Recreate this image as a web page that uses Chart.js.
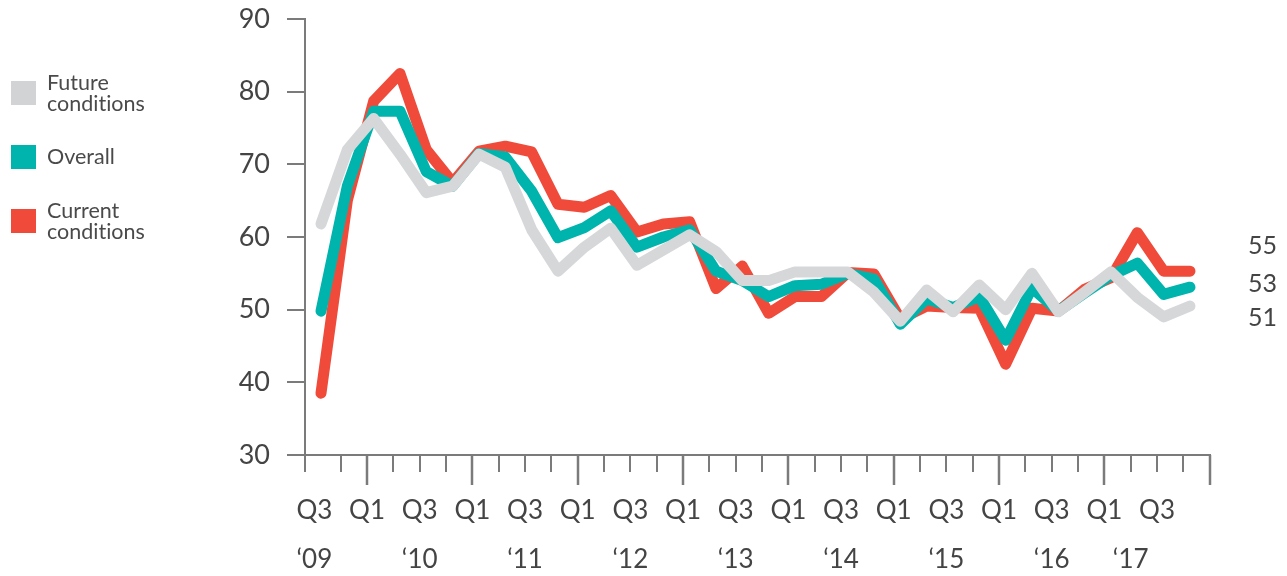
<!DOCTYPE html>
<html>
<head>
<meta charset="utf-8">
<script src="https://cdn.jsdelivr.net/npm/chart.js@4/dist/chart.umd.min.js"></script>
<style>
  html, body { margin: 0; padding: 0; background: #fff; }
  #wrap { position: relative; width: 1287px; height: 576px; overflow: hidden; }
  #chart { position: absolute; left: 0; top: 0; }
  #legend { position: absolute; left: 11px; top: 61px; font-family: 'Lato', sans-serif; color: #4a4a4a; font-variant-ligatures: none; }
  .item { display: flex; align-items: center; height: 64px; }
  .sw { width: 25px; height: 24px; margin-right: 11px; flex: none; }
  .txt { font-size: 21.5px; line-height: 21.5px; width: 120px; }
</style>
</head>
<body>
<div id="wrap">
  <canvas id="chart" width="1287" height="576"></canvas>
  <div id="legend"></div>
</div>
<script>
'use strict';

// ── 데이터 ────────────────────────────────────────────
// 분기: Q3 '09 ~ Q4 '17
const periods = [
  "Q3 '09","Q4 '09",
  "Q1 '10","Q2 '10","Q3 '10","Q4 '10",
  "Q1 '11","Q2 '11","Q3 '11","Q4 '11",
  "Q1 '12","Q2 '12","Q3 '12","Q4 '12",
  "Q1 '13","Q2 '13","Q3 '13","Q4 '13",
  "Q1 '14","Q2 '14","Q3 '14","Q4 '14",
  "Q1 '15","Q2 '15","Q3 '15","Q4 '15",
  "Q1 '16","Q2 '16","Q3 '16","Q4 '16",
  "Q1 '17","Q2 '17","Q3 '17","Q4 '17"
];

const futureConditions = [
  61.8, 72.0,
  76.3, 71.4, 66.1, 67.0,
  71.4, 69.6, 61.0, 55.3,
  58.6, 61.2, 56.1, 58.2,
  60.3, 58.0, 54.0, 54.0,
  55.2, 55.2, 55.2, 52.4,
  48.4, 52.7, 49.7, 53.4,
  50.0, 55.0, 49.7, 52.4,
  55.2, 51.7, 49.0, 50.5
];

const overall = [
  49.8, 67.0,
  77.3, 77.3, 69.0, 67.0,
  71.5, 71.0, 66.3, 59.9,
  61.3, 63.6, 58.6, 60.0,
  61.0, 55.3, 54.0, 51.8,
  53.3, 53.5, 55.0, 54.2,
  48.0, 51.5, 50.3, 51.8,
  45.8, 53.0, 49.8, 52.3,
  54.7, 56.4, 52.1, 53.1
];

const currentConditions = [
  38.5, 65.0,
  78.7, 82.5, 72.0, 67.5,
  71.8, 72.5, 71.7, 64.5,
  64.1, 65.7, 60.7, 61.8,
  62.1, 52.9, 56.0, 49.5,
  51.8, 51.8, 55.1, 54.9,
  48.7, 50.5, 50.3, 50.2,
  42.5, 50.2, 49.8, 52.8,
  54.4, 60.6, 55.3, 55.3
];

const seriesNames  = ['Future conditions', 'Overall', 'Current conditions'];
const seriesColors = ['#d6d7d9', '#00b4ae', '#f04b3a'];
const legendColors = ['#d1d3d4', '#00b4ae', '#f04b3a'];

const yTicks       = [30, 40, 50, 60, 70, 80, 90];
const quarterTicks = ['Q3','Q1','Q3','Q1','Q3','Q1','Q3','Q1','Q3','Q1','Q3','Q1','Q3','Q1','Q3','Q1','Q3'];
const yearTicks    = ['‘09','‘10','‘11','‘12','‘13','‘14','‘15','‘16','‘17'];
const endLabels    = ['55', '53', '51'];

// ── 스타일 ────────────────────────────────────────────
const FONT = "'Lato', sans-serif";
const TEXT = '#444444';
const AXIS = '#7b7b7b';

// ── x축 눈금 (분기 라벨은 점보다 1/4 분기 왼쪽) ─────────
const SHIFT = 0.25;
const xLabelMap = new Map();
quarterTicks.forEach((q, k) => {
  const i = k * 2;
  const year = (i % 4 === 0 && i / 4 < yearTicks.length - 1) ? yearTicks[i / 4] : '';
  xLabelMap.set(i - SHIFT, [q, year]);
});
// '17 은 Q1 과 Q3 사이에
xLabelMap.set(31 - SHIFT, ['', yearTicks[yearTicks.length - 1]]);
const xTickValues = [...xLabelMap.keys()].sort((a, b) => a - b);

function toPoints(arr) {
  return arr.map((v, i) => ({ x: i, y: v }));
}

// ── 축 장식 플러그인 ─────────────────────────────────
const axisExtras = {
  id: 'axisExtras',
  afterDraw(chart) {
    const { ctx, chartArea, scales } = chart;
    const x = scales.x;
    const bottom = chartArea.bottom;
    ctx.save();
    ctx.strokeStyle = AXIS;
    ctx.lineWidth = 2;
    ctx.beginPath();
    ctx.moveTo(chartArea.left - 18, bottom);
    ctx.lineTo(chartArea.right + 1, bottom);
    ctx.moveTo(chartArea.left, bottom);
    ctx.lineTo(chartArea.left, bottom + 17);
    ctx.stroke();

    // 분기 눈금: Q1 은 길게
    for (let i = 1; i <= periods.length; i++) {
      const px = Math.round(x.getPixelForValue(i - SHIFT));
      const major = i % 4 === 2;
      ctx.lineWidth = major ? 2.5 : 2;
      ctx.beginPath();
      ctx.moveTo(px, bottom);
      ctx.lineTo(px, bottom + (major ? 30 : 17));
      ctx.stroke();
    }

    // 오른쪽 끝 값
    ctx.fillStyle = TEXT;
    ctx.font = '25px ' + FONT;
    ctx.textAlign = 'left';
    ctx.textBaseline = 'middle';
    const offsets = [227, 265, 299];
    endLabels.forEach((t, k) => {
      ctx.fillText(t, chartArea.right + 38, chartArea.top + offsets[k]);
    });
    ctx.restore();
  }
};

// ── 차트 ─────────────────────────────────────────────
const seriesData = [futureConditions, overall, currentConditions];

const chart = new Chart(document.getElementById('chart'), {
  type: 'line',
  data: {
    datasets: seriesNames.map((name, k) => ({
      label: name,
      data: toPoints(seriesData[k]),
      borderColor: seriesColors[k],
      backgroundColor: seriesColors[k],
      borderWidth: 11,
      borderCapStyle: 'round',
      borderJoinStyle: 'round',
      pointRadius: 0,
      tension: 0,
      clip: false,
    }))
  },
  options: {
    responsive: false,
    animation: false,
    layout: { padding: { left: 0, top: 19, right: 77, bottom: 0 } },
    plugins: { legend: { display: false }, tooltip: { enabled: false } },
    scales: {
      x: {
        type: 'linear',
        min: -0.607,
        max: 33.76,
        afterBuildTicks: scale => { scale.ticks = xTickValues.map(v => ({ value: v })); },
        afterFit: scale => {
          scale.height = 121;
          scale.paddingLeft = 0;
          scale.paddingRight = 0;
        },
        border: { display: false },
        grid: { display: true, drawOnChartArea: false, drawTicks: false, tickLength: 0, color: 'transparent' },
        ticks: {
          autoSkip: false,
          maxRotation: 0,
          padding: 32,
          color: TEXT,
          font: { family: FONT, size: 26, lineHeight: 1.85 },
          callback: v => xLabelMap.get(v) || ''
        }
      },
      y: {
        min: 30,
        max: 90,
        afterBuildTicks: scale => { scale.ticks = yTicks.map(v => ({ value: v })); },
        afterFit: scale => {
          scale.width = 305;
          scale.paddingTop = 0;
          scale.paddingBottom = 0;
        },
        border: { display: true, color: AXIS, width: 2 },
        grid: { drawOnChartArea: false, tickLength: 18, color: AXIS, lineWidth: 2 },
        ticks: {
          padding: 17,
          color: TEXT,
          font: { family: FONT, size: 27 }
        }
      }
    }
  },
  plugins: [axisExtras]
});

// ── 범례 (HTML) ──────────────────────────────────────
const legend = document.getElementById('legend');
seriesNames.forEach((name, k) => {
  const row = document.createElement('div');
  row.className = 'item';
  row.innerHTML = `<span class="sw" style="background:${legendColors[k]}"></span><span class="txt">${name}</span>`;
  legend.appendChild(row);
});
</script>
</body>
</html>
